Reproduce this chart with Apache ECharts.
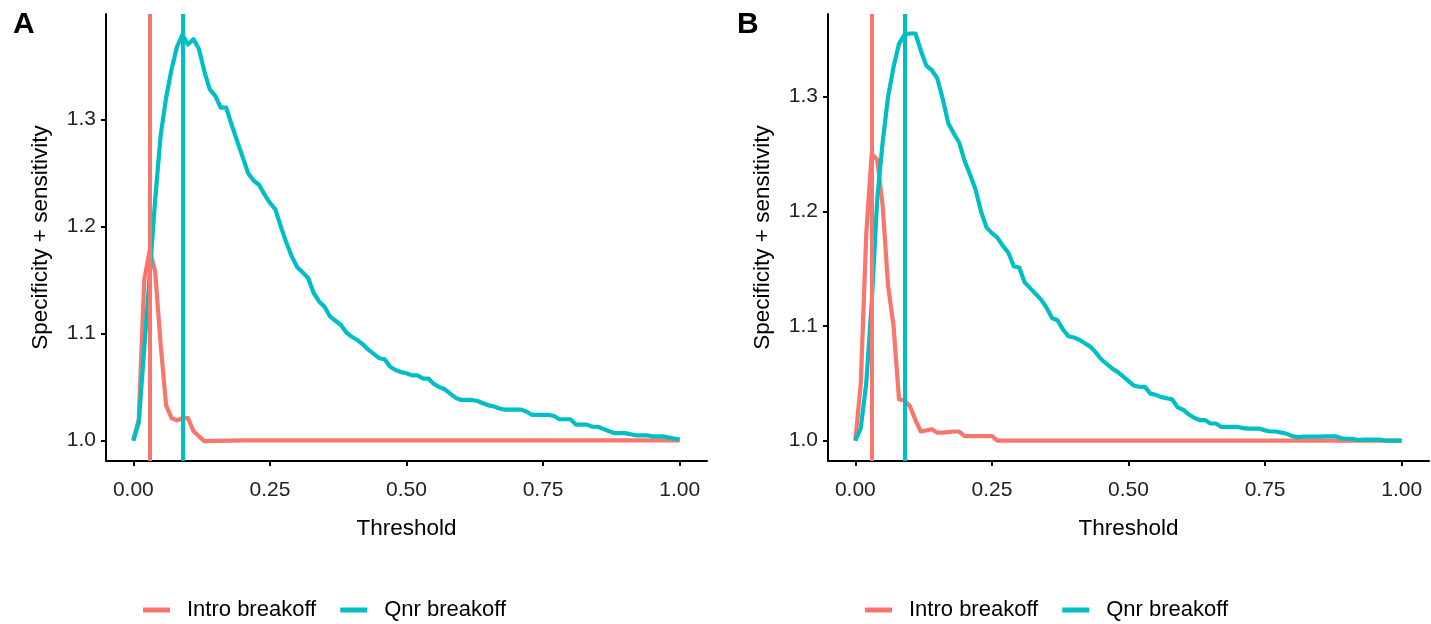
<!DOCTYPE html>
<html>
<head>
<meta charset="utf-8">
<script src="https://cdn.jsdelivr.net/npm/echarts@6/dist/echarts.min.js"></script>
<style>
html,body{margin:0;padding:0;background:#fff;}
#chart{width:1431px;height:624px;}
</style>
</head>
<body>
<div id="chart"></div>
<script>
// ---- Data ----
const seriesNames = ['Intro breakoff', 'Qnr breakoff'];
const panelLabels = ['A', 'B'];
const xTicks = [0, 0.25, 0.5, 0.75, 1.0];
const yTicks = [1.0, 1.1, 1.2, 1.3];

// Panel A, Intro breakoff
const introA_t = [0, 0.01, 0.02, 0.03, 0.04, 0.05, 0.06, 0.07, 0.08, 0.09, 0.10, 0.11, 0.12, 0.13, 0.20, 1.00];
const introA_v = [1.000, 1.020, 1.150, 1.178, 1.158, 1.090, 1.033, 1.021, 1.019, 1.021, 1.021, 1.009, 1.004, 0.9995, 1.0003, 1.0003];

// Panel A, Qnr breakoff
const qnrA_t = [0, 0.01, 0.02, 0.03, 0.04, 0.05, 0.06, 0.07, 0.08, 0.09, 0.10, 0.11, 0.12, 0.13, 0.14, 0.15, 0.16, 0.17, 0.18, 0.19,
  0.20, 0.21, 0.22, 0.23, 0.24, 0.25, 0.26, 0.27, 0.28, 0.29, 0.30, 0.31, 0.32, 0.33, 0.34, 0.35, 0.36, 0.37, 0.38, 0.39,
  0.40, 0.41, 0.42, 0.43, 0.44, 0.45, 0.46, 0.47, 0.48, 0.49, 0.50, 0.51, 0.52, 0.53, 0.54, 0.55, 0.56, 0.57, 0.58, 0.59,
  0.60, 0.61, 0.62, 0.63, 0.64, 0.65, 0.66, 0.67, 0.68, 0.69, 0.70, 0.71, 0.72, 0.73, 0.74, 0.75, 0.76, 0.77, 0.78, 0.79,
  0.80, 0.81, 0.82, 0.83, 0.84, 0.85, 0.86, 0.87, 0.88, 0.89, 0.90, 0.91, 0.92, 0.93, 0.94, 0.95, 0.96, 0.97, 0.98, 0.99, 1.00];
const qnrA_v = [1.000, 1.017, 1.086, 1.155, 1.225, 1.285, 1.320, 1.347, 1.368, 1.379, 1.370, 1.375, 1.366, 1.345, 1.328, 1.322, 1.311, 1.311, 1.295, 1.280,
  1.265, 1.250, 1.243, 1.239, 1.230, 1.222, 1.216, 1.200, 1.185, 1.172, 1.162, 1.157, 1.152, 1.138, 1.130, 1.125, 1.116, 1.112, 1.108, 1.101,
  1.097, 1.094, 1.090, 1.085, 1.081, 1.077, 1.076, 1.069, 1.066, 1.064, 1.063, 1.061, 1.061, 1.058, 1.058, 1.053, 1.050, 1.048, 1.044, 1.040,
  1.038, 1.038, 1.038, 1.037, 1.035, 1.033, 1.032, 1.030, 1.029, 1.029, 1.029, 1.029, 1.027, 1.024, 1.024, 1.024, 1.024, 1.023, 1.020, 1.020,
  1.020, 1.015, 1.015, 1.015, 1.013, 1.013, 1.011, 1.009, 1.007, 1.007, 1.007, 1.006, 1.005, 1.005, 1.005, 1.004, 1.004, 1.004, 1.003, 1.002, 1.001];

// Panel B, Intro breakoff
const introB_t = [0, 0.01, 0.02, 0.03, 0.04, 0.05, 0.06, 0.07, 0.08, 0.09, 0.10, 0.11, 0.12, 0.13, 0.14, 0.15, 0.16, 0.17, 0.18, 0.19, 0.20, 0.25, 0.26, 1.00];
const introB_v = [1.000, 1.050, 1.180, 1.250, 1.245, 1.205, 1.135, 1.100, 1.036, 1.035, 1.030, 1.018, 1.008, 1.009, 1.010, 1.007, 1.007, 1.0075, 1.008, 1.008, 1.004, 1.004, 1.000, 1.000];

// Panel B, Qnr breakoff
const qnrB_t = qnrA_t;
const qnrB_v = [1.000, 1.011, 1.050, 1.120, 1.210, 1.260, 1.300, 1.326, 1.346, 1.354, 1.355, 1.355, 1.340, 1.327, 1.323, 1.316, 1.298, 1.277, 1.268, 1.260,
  1.244, 1.232, 1.219, 1.200, 1.186, 1.181, 1.177, 1.170, 1.164, 1.152, 1.151, 1.138, 1.133, 1.128, 1.123, 1.116, 1.107, 1.105, 1.097, 1.091,
  1.090, 1.088, 1.085, 1.082, 1.077, 1.071, 1.067, 1.063, 1.060, 1.056, 1.052, 1.048, 1.047, 1.047, 1.041, 1.040, 1.038, 1.037, 1.036, 1.029,
  1.027, 1.023, 1.020, 1.018, 1.018, 1.015, 1.015, 1.012, 1.012, 1.012, 1.012, 1.011, 1.0105, 1.0105, 1.0105, 1.009, 1.008, 1.008, 1.007, 1.006,
  1.004, 1.003, 1.0035, 1.0035, 1.0035, 1.0035, 1.0038, 1.0038, 1.0038, 1.002, 1.0017, 1.0017, 1.0005, 1.001, 1.001, 1.001, 1.001, 1.000, 1.000, 1.000, 1.000];

// Optimal thresholds (vertical lines)
const cutoffsA = [0.025, 0.0914];
const cutoffsB = [0.031, 0.094];

// Axis ranges (ggplot 5% expansion)
const xRange = [-0.05, 1.05];
const yRangeA = [0.981, 1.3985];
const yRangeB = [0.9823, 1.372];

const colors = ['#F8766D', '#00BFC4'];
const FONT = 'Liberation Sans, Arial, sans-serif';

function zip(t, v) { return t.map((x, i) => [x, v[i]]); }

function xAxisCfg(gi) {
  return {
    type: 'value', gridIndex: gi, min: xRange[0], max: xRange[1],
    name: 'Threshold', nameLocation: 'middle', nameGap: 56,
    nameTextStyle: { fontFamily: FONT, fontSize: 22.5, color: '#000' },
    axisLine: { show: true, onZero: false, lineStyle: { color: '#000', width: 2 } },
    axisTick: { show: true, length: 5, lineStyle: { color: '#000', width: 2 }, customValues: xTicks },
    axisLabel: { customValues: xTicks, formatter: v => v.toFixed(2), fontFamily: FONT, fontSize: 21, color: '#222', margin: 19 },
    splitLine: { show: false }
  };
}
function yAxisCfg(gi, r) {
  return {
    type: 'value', gridIndex: gi, min: r[0], max: r[1],
    name: 'Specificity + sensitivity', nameLocation: 'middle', nameGap: 54, nameRotate: 90,
    nameTextStyle: { fontFamily: FONT, fontSize: 22.5, color: '#000' },
    axisLine: { show: true, onZero: false, lineStyle: { color: '#000', width: 2 } },
    axisTick: { show: true, length: 5, lineStyle: { color: '#000', width: 2 }, customValues: yTicks },
    axisLabel: { customValues: yTicks, formatter: v => v.toFixed(1), fontFamily: FONT, fontSize: 21, color: '#222', margin: 10 },
    splitLine: { show: false }
  };
}
function curve(name, gi, data, color) {
  return {
    type: 'line', name: name, xAxisIndex: gi, yAxisIndex: gi, data: data,
    showSymbol: false, symbol: 'none', color: color, z: 2,
    lineStyle: { color: color, width: 4.2, join: 'round' }, silent: true
  };
}
function vline(gi, value, color) {
  return {
    type: 'line', name: 'vline' + gi + color, xAxisIndex: gi, yAxisIndex: gi, data: [],
    z: 5, silent: true,
    markLine: {
      silent: true, symbol: 'none', animation: false,
      label: { show: false },
      lineStyle: { color: color, width: 4, type: 'solid' },
      data: [{ xAxis: value }]
    }
  };
}
function legendCfg(left) {
  return {
    data: seriesNames, left: left, top: 594, orient: 'horizontal',
    icon: 'rect', itemWidth: 27, itemHeight: 5, itemGap: 24,
    textStyle: { fontFamily: FONT, fontSize: 22, color: '#000', padding: [0, 0, 0, 12] },
    selectedMode: false
  };
}

const chart = echarts.init(document.getElementById('chart'), null, { renderer: 'canvas' });
chart.setOption({
  animation: false,
  backgroundColor: '#fff',
  title: [
    { text: panelLabels[0], left: 8, top: 5, textStyle: { fontFamily: FONT, fontSize: 30, fontWeight: 'bold', color: '#000' } },
    { text: panelLabels[1], left: 732, top: 5, textStyle: { fontFamily: FONT, fontSize: 30, fontWeight: 'bold', color: '#000' } }
  ],
  legend: [legendCfg(138), legendCfg(860)],
  grid: [
    { left: 106, top: 14, width: 601, height: 447 },
    { left: 828, top: 14, width: 601, height: 447 }
  ],
  xAxis: [xAxisCfg(0), xAxisCfg(1)],
  yAxis: [yAxisCfg(0, yRangeA), yAxisCfg(1, yRangeB)],
  series: [
    curve(seriesNames[0], 0, zip(introA_t, introA_v), colors[0]),
    curve(seriesNames[1], 0, zip(qnrA_t, qnrA_v), colors[1]),
    curve(seriesNames[0], 1, zip(introB_t, introB_v), colors[0]),
    curve(seriesNames[1], 1, zip(qnrB_t, qnrB_v), colors[1]),
    vline(0, cutoffsA[0], colors[0]),
    vline(0, cutoffsA[1], colors[1]),
    vline(1, cutoffsB[0], colors[0]),
    vline(1, cutoffsB[1], colors[1])
  ]
});
</script>
</body>
</html>
